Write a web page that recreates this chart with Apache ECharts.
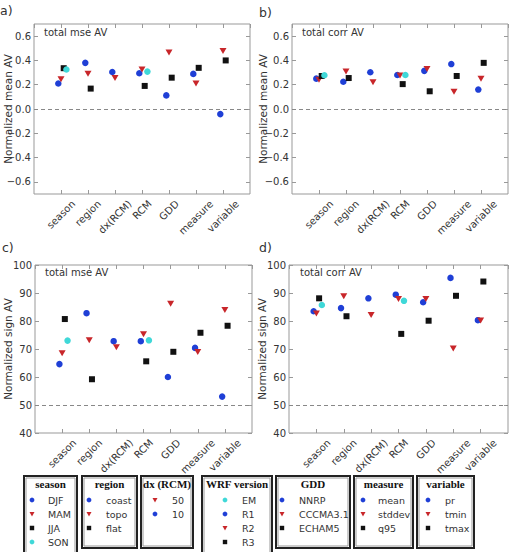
<!DOCTYPE html>
<html>
<head>
<meta charset="utf-8">
<script src="https://cdn.jsdelivr.net/npm/echarts@6/dist/echarts.min.js"></script>
<style>
  html, body { margin: 0; padding: 0; background: #fff; }
  #main { width: 513px; height: 552px; }
</style>
</head>
<body>
<div id="main"></div>
<script>
// categories on the x axis
var categories = ['season', 'region', 'dx(RCM)', 'RCM', 'GDD', 'measure', 'variable'];

// a) total mse AV, normalized mean AV
var mseMeanBlue  = [0.21, 0.38, 0.305, 0.294, 0.112, 0.289, -0.042];
var mseMeanRed   = [0.244, 0.29, 0.255, 0.325, 0.465, 0.21, 0.477];
var mseMeanBlack = [0.336, 0.168, null, 0.19, 0.258, 0.339, 0.40];
var mseMeanCyan  = [0.325, null, null, 0.308, null, null, null];

// b) total corr AV, normalized mean AV
var corrMeanBlue  = [0.25, 0.224, 0.303, 0.28, 0.314, 0.37, 0.16];
var corrMeanRed   = [0.24, 0.308, 0.22, 0.275, 0.33, 0.143, 0.25];
var corrMeanBlack = [0.272, 0.255, null, 0.205, 0.146, 0.272, 0.38];
var corrMeanCyan  = [0.278, null, null, 0.28, null, null, null];

// c) total mse AV, normalized sign AV
var mseSignBlue  = [64.6, 82.8, 72.8, 72.8, 60.0, 70.4, 53.0];
var mseSignRed   = [68.5, 73.1, 70.6, 75.3, 86.2, 68.9, 83.9];
var mseSignBlack = [80.7, 59.2, null, 65.6, 69.0, 75.8, 78.3];
var mseSignCyan  = [73.0, null, null, 73.1, null, null, null];

// d) total corr AV, normalized sign AV
var corrSignBlue  = [83.5, 84.6, 88.1, 89.4, 86.7, 95.4, 80.3];
var corrSignRed   = [82.7, 88.8, 82.1, 87.9, 87.9, 70.2, 80.2];
var corrSignBlack = [88.1, 81.7, null, 75.4, 80.1, 89.0, 94.1];
var corrSignCyan  = [85.7, null, null, 87.2, null, null, null];

// y tick labels
var meanTicks = [-0.6, -0.4, -0.2, 0.0, 0.2, 0.4, 0.6];
var signTicks = [40, 50, 60, 70, 80, 90, 100];

// legend boxes under the plots
var legendTitles = ['season', 'region', 'dx (RCM)', 'WRF version', 'GDD', 'measure', 'variable'];
var legendItems = [
  [['DJF', 'blue'], ['MAM', 'red'], ['JJA', 'black'], ['SON', 'cyan']],
  [['coast', 'blue'], ['topo', 'red'], ['flat', 'black']],
  [['50', 'red'], ['10', 'blue']],
  [['EM', 'cyan'], ['R1', 'blue'], ['R2', 'red'], ['R3', 'black']],
  [['NNRP', 'blue'], ['CCCMA3.1', 'red'], ['ECHAM5', 'black']],
  [['mean', 'blue'], ['stddev', 'red'], ['q95', 'black']],
  [['pr', 'blue'], ['tmin', 'red'], ['tmax', 'black']]
];

// styles
var COLORS = { blue: '#1f3fd6', red: '#c8262a', black: '#111111', cyan: '#3fd8d8' };
var OFFSET = { blue: -0.1, red: 0, black: 0.1, cyan: 0.2 };
var SYMBOL = { blue: 'circle', red: 'triangle', black: 'rect', cyan: 'circle' };
var FONT = '"DejaVu Sans", Verdana, sans-serif';
var TXT = '#333';
var FRAME = '#999';

var panels = [
  { tag: 'a)', tagPos: [0, 4], title: 'total mse AV', titlePos: [44, 27],
    grid: { left: 34, top: 24, width: 216, height: 170 },
    min: -0.7, max: 0.7, step: 0.1, ticks: meanTicks, ref: 0, name: 'Normalized mean AV', gap: 21,
    data: { blue: mseMeanBlue, red: mseMeanRed, black: mseMeanBlack, cyan: mseMeanCyan } },
  { tag: 'b)', tagPos: [259, 6], title: 'total corr AV', titlePos: [302, 27],
    grid: { left: 292, top: 24, width: 216, height: 170 },
    min: -0.7, max: 0.7, step: 0.1, ticks: meanTicks, ref: 0, name: 'Normalized mean AV', gap: 24,
    data: { blue: corrMeanBlue, red: corrMeanRed, black: corrMeanBlack, cyan: corrMeanCyan } },
  { tag: 'c)', tagPos: [2, 241], title: 'total mse AV', titlePos: [45, 267],
    grid: { left: 35, top: 265, width: 217, height: 168 },
    min: 40, max: 100, step: 10, ticks: signTicks, ref: 50, name: 'Normalized sign AV', gap: 22,
    data: { blue: mseSignBlue, red: mseSignRed, black: mseSignBlack, cyan: mseSignCyan } },
  { tag: 'd)', tagPos: [259, 241], title: 'total corr AV', titlePos: [300, 267],
    grid: { left: 289, top: 265, width: 219, height: 168 },
    min: 40, max: 100, step: 10, ticks: signTicks, ref: 50, name: 'Normalized sign AV', gap: 22,
    data: { blue: corrSignBlue, red: corrSignRed, black: corrSignBlack, cyan: corrSignCyan } }
];

// matplotlib-like rotated labels: centre of the rotated box sits under the tick
var LBL_SIZE = 10;
var ctx = document.createElement('canvas').getContext('2d');
ctx.font = LBL_SIZE + 'px "DejaVu Sans"';
var rich = {};
categories.forEach(function (c, i) {
  var w = ctx.measureText(c).width;
  var h = LBL_SIZE * 1.15;
  var d = (w + h) * 0.7071 / 2;
  var s = d * 0.7071;
  rich['c' + i] = { fontSize: LBL_SIZE, fontFamily: FONT, color: TXT, padding: [2 * s, 2 * s, 0, 0] };
});

var option = {
  animation: false,
  backgroundColor: '#fff',
  title: [],
  grid: [],
  xAxis: [],
  yAxis: [],
  series: [],
  graphic: []
};

panels.forEach(function (p, k) {
  var g = Object.assign({ show: true, borderColor: FRAME, borderWidth: 1, backgroundColor: 'transparent', containLabel: false, outerBoundsMode: 'none' }, p.grid);
  option.grid.push(g);
  option.title.push({ text: p.tag, left: p.tagPos[0], top: p.tagPos[1], padding: 0,
    textStyle: { fontSize: 12.5, fontWeight: 'normal', fontFamily: FONT, color: TXT } });
  option.title.push({ text: p.title, left: p.titlePos[0], top: p.titlePos[1], padding: 0,
    textStyle: { fontSize: 10, fontWeight: 'normal', fontFamily: FONT, color: TXT } });

  var isMean = p.min < 0;
  var tickStyle = { show: true, inside: true, length: 4, lineStyle: { color: FRAME } };
  // bottom x axis with category names
  option.xAxis.push({
    type: 'value', gridIndex: k, position: 'bottom', min: -1, max: 7, interval: 1,
    axisLine: { show: false, onZero: false }, splitLine: { show: false },
    axisTick: tickStyle,
    axisLabel: {
      show: true, rotate: 45, margin: 4, align: 'center', verticalAlign: 'middle',
      showMinLabel: false, showMaxLabel: false,
      formatter: function (v) {
        var i = Math.round(v);
        if (i < 0 || i >= categories.length) return '';
        return '{c' + i + '|' + categories[i] + '}';
      },
      rich: rich
    }
  });
  // top x axis, ticks only
  option.xAxis.push({
    type: 'value', gridIndex: k, position: 'top', min: -1, max: 7, interval: 1,
    axisLine: { show: false, onZero: false }, splitLine: { show: false }, axisLabel: { show: false },
    axisTick: tickStyle
  });
  // left y axis
  option.yAxis.push({
    type: 'value', gridIndex: k, position: 'left', min: p.min, max: p.max, interval: p.step,
    name: p.name, nameLocation: 'middle', nameGap: p.gap, nameMoveOverlap: false,
    nameTextStyle: { fontSize: 10.5, fontFamily: FONT, color: TXT },
    axisLine: { show: false, onZero: false }, splitLine: { show: false },
    axisTick: Object.assign({ customValues: p.ticks }, tickStyle),
    axisLabel: {
      show: true, margin: 3, fontSize: 10, fontFamily: FONT, color: TXT, customValues: p.ticks,
      formatter: function (v) {
        return isMean ? v.toFixed(1).replace('-', '\u2212') : String(Math.round(v));
      }
    }
  });
  // right y axis, ticks only
  option.yAxis.push({
    type: 'value', gridIndex: k, position: 'right', min: p.min, max: p.max, interval: p.step,
    axisLine: { show: false, onZero: false }, splitLine: { show: false }, axisLabel: { show: false },
    axisTick: Object.assign({ customValues: p.ticks }, tickStyle)
  });

  ['blue', 'red', 'black', 'cyan'].forEach(function (c, j) {
    var pts = [];
    p.data[c].forEach(function (v, i) {
      if (v !== null) pts.push([i + OFFSET[c], v]);
    });
    var s = {
      type: 'scatter', xAxisIndex: 2 * k, yAxisIndex: 2 * k,
      symbol: SYMBOL[c], symbolSize: c === 'red' ? [7, 6] : (c === 'black' ? 6 : 6.5),
      symbolRotate: c === 'red' ? 180 : 0,
      itemStyle: { color: COLORS[c], opacity: 1 },
      data: pts, z: 3 + j
    };
    if (j === 0) {
      s.markLine = {
        silent: true, symbol: 'none', label: { show: false },
        lineStyle: { color: '#888', type: [4, 3], width: 1 },
        data: [{ yAxis: p.ref }]
      };
    }
    option.series.push(s);
  });
});

// legend boxes
var boxX = [[24, 77], [82, 137], [141, 193], [202, 272], [276, 350], [354, 413], [417, 474]];
var markX = [32, 89, 155, 225, 282, 363, 428];
var textX = [48, 106, 172, 242, 299, 378, 445];
var boxTop = 476, boxBottom = 548, rowY0 = 500, rowDy = 14;

legendTitles.forEach(function (t, b) {
  var x0 = boxX[b][0], x1 = boxX[b][1];
  var bottom = legendItems[b].length > 3 ? 556 : boxBottom;
  option.graphic.push({ type: 'rect', shape: { x: x0, y: boxTop, width: x1 - x0, height: bottom - boxTop },
    style: { fill: 'none', stroke: '#222', lineWidth: 2 }, z: 10 });
  option.graphic.push({ type: 'rect', shape: { x: x0 + 2, y: boxTop + 2, width: x1 - x0 - 4, height: bottom - boxTop - 4 },
    style: { fill: 'none', stroke: '#999', lineWidth: 1 }, z: 10 });
  option.graphic.push({ type: 'text', x: (x0 + x1) / 2, y: 484, z: 11,
    style: { text: t, fill: '#111', font: 'bold 11px "Liberation Serif", serif', textAlign: 'center', textVerticalAlign: 'middle' } });
  legendItems[b].forEach(function (it, i) {
    var y = rowY0 + i * rowDy;
    var mx = markX[b], col = COLORS[it[1]], sh;
    if (it[1] === 'red') {
      sh = { type: 'polygon', shape: { points: [[mx - 2.5, y - 2], [mx + 2.5, y - 2], [mx, y + 2.5]] }, style: { fill: col }, z: 11 };
    } else if (it[1] === 'black') {
      sh = { type: 'rect', shape: { x: mx - 2.2, y: y - 2.2, width: 4.4, height: 4.4 }, style: { fill: col }, z: 11 };
    } else {
      sh = { type: 'circle', shape: { cx: mx, cy: y, r: 2.4 }, style: { fill: col }, z: 11 };
    }
    option.graphic.push(sh);
    option.graphic.push({ type: 'text', x: textX[b], y: y, z: 11,
      style: { text: it[0], fill: TXT, font: '9.5px "DejaVu Sans"', textAlign: 'left', textVerticalAlign: 'middle' } });
  });
});

var dom = document.getElementById('main');
var myChart = echarts.init(dom, null, { renderer: 'svg' });
myChart.setOption(option, true);
window.addEventListener('resize', function () {
  myChart.resize();
});
</script>
</body>
</html>
